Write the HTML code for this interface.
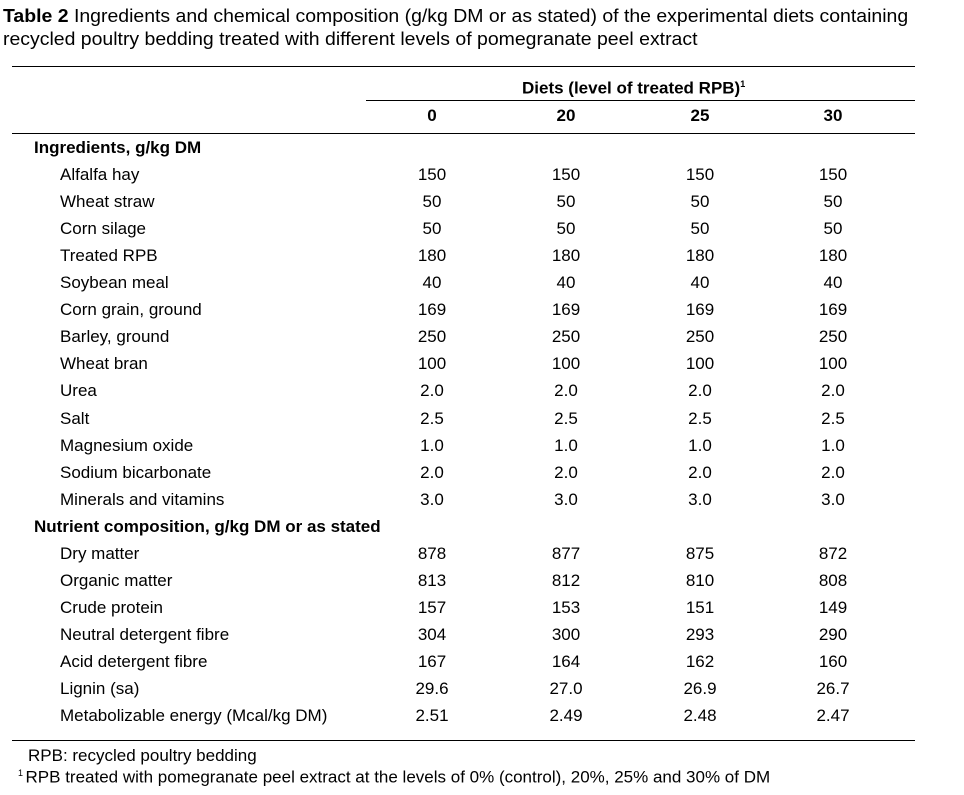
<!DOCTYPE html>
<html><head><meta charset="utf-8"><style>
body{margin:0;background:#fff;width:964px;height:795px;position:relative;font-family:"Liberation Sans",Arial,sans-serif;color:#000;overflow:hidden}
.t{position:absolute;white-space:nowrap;font-size:17px;line-height:18px}
.title{position:absolute;left:3px;font-size:18px;line-height:20px;white-space:nowrap;transform:scaleX(1.08);transform-origin:left top}
.ln{position:absolute;height:1px;background:#000}
.c{position:absolute;width:80px;text-align:center;font-size:17px;line-height:18px}
b{font-weight:bold}
</style></head><body>
<div class="title" style="top:6px"><b>Table 2</b> Ingredients and chemical composition (g/kg DM or as stated) of the experimental diets containing</div>
<div class="title" style="top:29px">recycled poultry bedding treated with different levels of pomegranate peel extract</div>
<div class="ln" style="left:12px;width:903px;top:66px"></div>
<div class="t" style="left:522px;top:75px;font-weight:bold">Diets (level of treated RPB)<sup style="font-size:9px">1</sup></div>
<div class="ln" style="left:366px;width:549px;top:100px"></div>
<div class="ln" style="left:12px;width:903px;top:133px"></div>
<div class="ln" style="left:12px;width:903px;top:740px"></div>
<div id="rows"></div>
<div class="t" style="left:28px;top:747px">RPB: recycled poultry bedding</div>
<div class="t" style="left:18px;top:764px"><sup style="font-size:9px">1 </sup>RPB treated with pomegranate peel extract at the levels of 0% (control), 20%, 25% and 30% of DM</div>
<script>
const cols=["0","20","25","30"];
const rows=[
["H","Ingredients, g/kg DM"],
["Alfalfa hay","150","150","150","150"],
["Wheat straw","50","50","50","50"],
["Corn silage","50","50","50","50"],
["Treated RPB","180","180","180","180"],
["Soybean meal","40","40","40","40"],
["Corn grain, ground","169","169","169","169"],
["Barley, ground","250","250","250","250"],
["Wheat bran","100","100","100","100"],
["Urea","2.0","2.0","2.0","2.0"],
["Salt","2.5","2.5","2.5","2.5"],
["Magnesium oxide","1.0","1.0","1.0","1.0"],
["Sodium bicarbonate","2.0","2.0","2.0","2.0"],
["Minerals and vitamins","3.0","3.0","3.0","3.0"],
["H","Nutrient composition, g/kg DM or as stated"],
["Dry matter","878","877","875","872"],
["Organic matter","813","812","810","808"],
["Crude protein","157","153","151","149"],
["Neutral detergent fibre","304","300","293","290"],
["Acid detergent fibre","167","164","162","160"],
["Lignin (sa)","29.6","27.0","26.9","26.7"],
["Metabolizable energy (Mcal/kg DM)","2.51","2.49","2.48","2.47"]];
const cx=[432,566,700,833];
const root=document.getElementById('rows');
function add(cls,txt,l,t,bold,name){const d=document.createElement('div');d.className=cls;d.textContent=txt;d.style.left=l+'px';d.style.top=t+'px';if(bold)d.style.fontWeight='bold';


root.appendChild(d);}
cols.forEach((c,i)=>add('c',c,cx[i]-40,107,true,'column-header'));
rows.forEach((r,i)=>{const y=139+i*27.05;
if(r[0]==="H"){add('t',r[1],34,y,true,'section-header');return;}
add('t',r[0],60,y,false,'row-label');
for(let j=1;j<5;j++)add('c',r[j],cx[j-1]-40,y,false,'cell-value');});
</script>
</body></html>
